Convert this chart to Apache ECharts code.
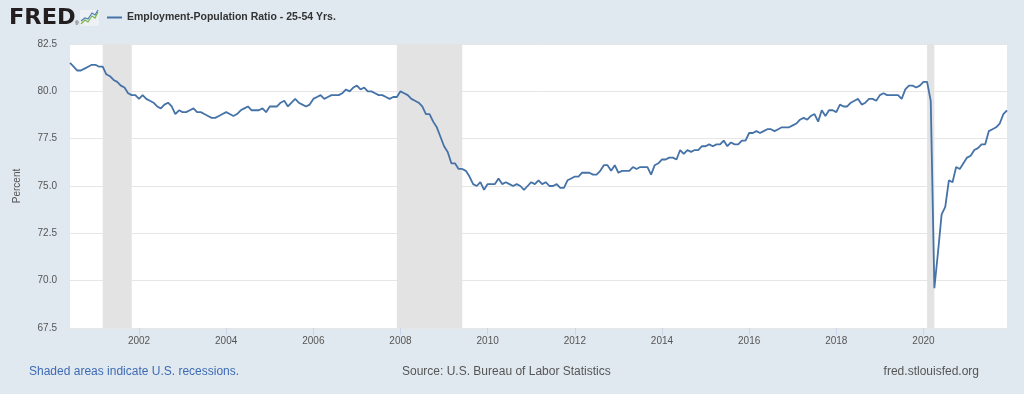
<!DOCTYPE html>
<html>
<head>
<meta charset="utf-8">
<script src="https://cdn.jsdelivr.net/npm/echarts@6/dist/echarts.min.js"></script>
<style>
html,body{margin:0;padding:0;background:#e1e9f0;}
#c{width:1024px;height:394px;}
</style>
</head>
<body>
<div id="c"></div>
<script>
// Monthly observations starting June 2000 (Employment-Population Ratio, 25-54 Yrs., percent)
const startYear = 2000;
const startMonth = 6;
const values = [
81.5,81.3,81.1,81.1,81.2,81.3,81.4,81.4,81.3,81.3,80.9,80.8,80.6,80.5,80.3,80.2,79.9,79.8,79.8,79.6,
79.8,79.6,79.5,79.4,79.2,79.1,79.3,79.4,79.2,78.8,79.0,78.9,78.9,79.0,79.1,78.9,78.9,78.8,78.7,78.6,
78.6,78.7,78.8,78.9,78.8,78.7,78.8,79.0,79.1,79.2,79.0,79.0,79.0,79.1,78.9,79.2,79.2,79.2,79.4,79.5,
79.2,79.4,79.6,79.4,79.3,79.2,79.3,79.6,79.7,79.8,79.6,79.7,79.8,79.8,79.8,79.9,80.1,80.0,80.2,80.3,
80.1,80.2,80.0,80.0,79.9,79.8,79.8,79.7,79.6,79.7,79.7,80.0,79.9,79.8,79.6,79.5,79.4,79.2,78.8,78.8,
78.4,78.1,77.6,77.1,76.8,76.2,76.2,75.9,75.9,75.8,75.5,75.1,75.0,75.2,74.8,75.1,75.1,75.1,75.4,75.1,
75.2,75.1,75.0,75.1,75.0,74.8,75.0,75.2,75.1,75.3,75.1,75.2,75.0,75.0,75.1,74.9,74.9,75.3,75.4,75.5,
75.5,75.7,75.7,75.7,75.6,75.6,75.8,76.1,76.1,75.8,76.1,75.7,75.8,75.8,75.8,76.0,75.9,76.0,76.0,76.0,
75.6,76.1,76.2,76.4,76.4,76.5,76.5,76.4,76.9,76.7,76.9,76.8,76.9,76.9,77.1,77.1,77.2,77.1,77.2,77.2,
77.4,77.1,77.3,77.2,77.2,77.4,77.4,77.8,77.8,77.9,77.8,77.9,78.0,78.0,77.9,78.0,78.1,78.1,78.1,78.2,
78.3,78.5,78.6,78.5,78.7,78.8,78.4,79.0,78.7,79.0,79.0,78.9,79.3,79.2,79.2,79.4,79.5,79.6,79.3,79.4,
79.6,79.6,79.5,79.8,79.9,79.8,79.8,79.8,79.8,79.6,80.1,80.3,80.3,80.2,80.3,80.5,80.5,79.5,69.6,71.5,
73.5,73.9,75.3,75.2,76.0,75.9,76.2,76.5,76.6,76.9,77.0,77.2,77.2,77.9,78.0,78.1,78.3,78.8,79.0
];
const recessions = [["2001-03","2001-11"],["2007-12","2009-06"],["2020-02","2020-04"]];
const yearTicks = [2002,2004,2006,2008,2010,2012,2014,2016,2018,2020];
const seriesName = "Employment-Population Ratio - 25-54 Yrs.";

function ym(s){const p=s.split("-");return +p[0]+(+p[1]-1)/12;}
const data = values.map((v,i)=>[startYear+(startMonth-1+i)/12, v]);
const xMin = data[0][0], xMax = data[data.length-1][0];

const chart = echarts.init(document.getElementById('c'), null, {renderer:'canvas'});
const FONT = '"Liberation Sans", Arial, sans-serif';
chart.setOption({
  backgroundColor:'#e1e9f0',
  animation:false,
  textStyle:{fontFamily:FONT},
  grid:{left:70,right:17,top:44,bottom:66,show:true,backgroundColor:'#ffffff',borderWidth:0},
  legend:{
    left:107,top:12,padding:0,icon:'rect',itemWidth:15,itemHeight:2,itemGap:6,
    textStyle:{fontFamily:FONT,fontSize:10.5,fontWeight:'bold',color:'#333333',padding:[0,0,0,0]},
    data:[{name:seriesName,itemStyle:{color:'#4572a7'}}]
  },
  xAxis:{
    type:'value',min:xMin,max:xMax,
    axisLine:{show:false},
    axisTick:{show:true,length:7,lineStyle:{color:'#ccd6eb'},customValues:yearTicks},
    axisLabel:{customValues:yearTicks,formatter:v=>String(Math.round(v)),color:'#555555',fontSize:10,margin:8,fontFamily:FONT},
    splitLine:{show:false}
  },
  yAxis:{
    type:'value',min:67.5,max:82.5,interval:2.5,
    name:'Percent',nameLocation:'middle',nameGap:48,nameRotate:90,
    nameTextStyle:{color:'#555555',fontSize:10,fontFamily:FONT},
    axisLine:{show:false},axisTick:{show:false},
    axisLabel:{formatter:v=>v.toFixed(1),color:'#555555',fontSize:10,margin:13,fontFamily:FONT},
    splitLine:{lineStyle:{color:'#e6e6e6',width:1}}
  },
  series:[{
    name:seriesName,type:'line',data:data,showSymbol:false,symbol:'none',
    lineStyle:{color:'#4572a7',width:1.8},itemStyle:{color:'#4572a7'},
    markArea:{silent:true,itemStyle:{color:'#e3e3e3'},
      data:recessions.map(r=>[{xAxis:ym(r[0])},{xAxis:ym(r[1])}])}
  }],
  graphic:[
    {type:'text',x:9,y:8,scaleX:1.07,style:{text:'FRED',font:'bold 21px "DejaVu Sans", sans-serif',fill:'#231f20'}},
    {type:'text',left:75,top:21,style:{text:'®',font:'5px "Liberation Sans", Arial',fill:'#231f20'}},
    {type:'rect',shape:{x:80,y:10,width:19,height:16},style:{fill:'#eef1f3'}},
    {type:'polyline',shape:{points:[[81,24],[85,20],[88,22],[92,16],[95,18],[98,12]]},style:{stroke:'#7ab648',lineWidth:1.2,fill:null}},
    {type:'polyline',shape:{points:[[81,21],[85,18],[88,19],[92,13],[95,15],[98,10]]},style:{stroke:'#4a7fb5',lineWidth:1.2,fill:null}},
    {type:'text',left:29,top:366,style:{text:'Shaded areas indicate U.S. recessions.',font:'12px "Liberation Sans", Arial, sans-serif',fill:'#3d6bb3'}},
    {type:'text',left:402,top:366,style:{text:'Source: U.S. Bureau of Labor Statistics',font:'12px "Liberation Sans", Arial, sans-serif',fill:'#555555'}},
    {type:'text',right:45,top:366,style:{text:'fred.stlouisfed.org',font:'12px "Liberation Sans", Arial, sans-serif',fill:'#555555'}}
  ]
});
</script>
</body>
</html>
